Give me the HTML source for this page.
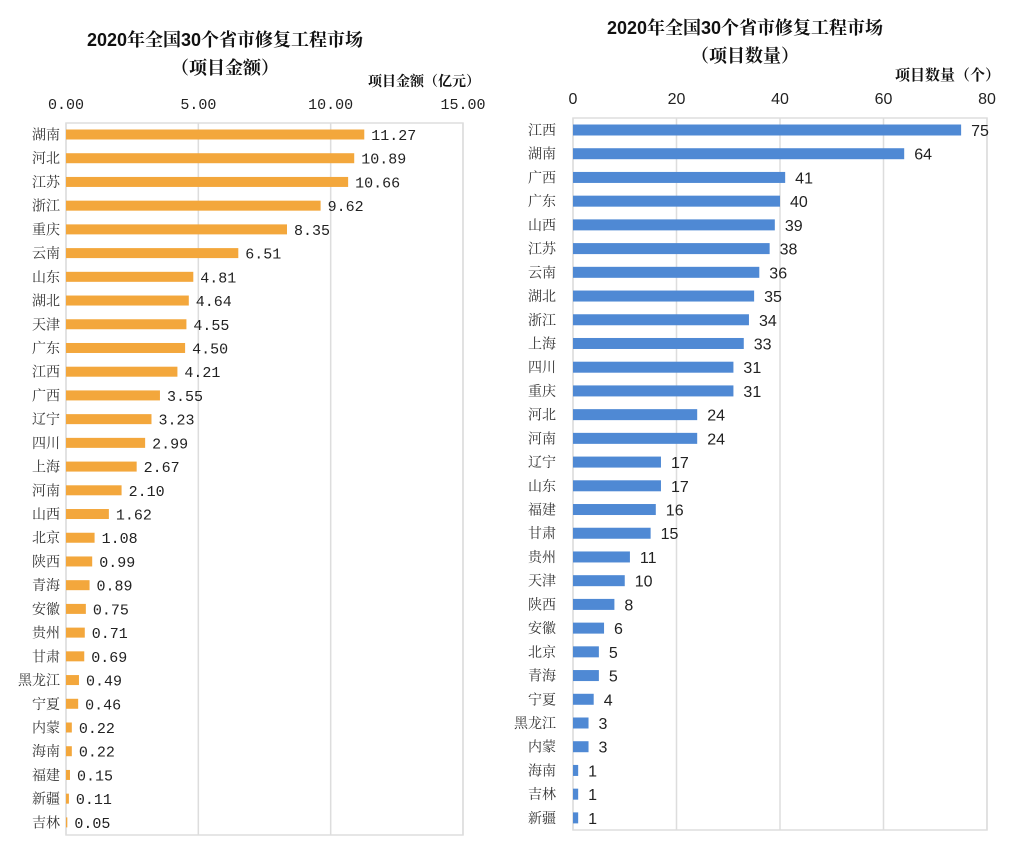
<!DOCTYPE html>
<html><head><meta charset="utf-8"><style>
body{margin:0;background:#fff}
svg{display:block}
.t{font-family:"Liberation Sans","Noto Serif CJK SC",serif;font-weight:bold;fill:#111}
.c{font-family:"Noto Serif CJK SC",serif;fill:#333;font-size:14px}
.v{font-family:"Liberation Mono","Noto Serif CJK SC",monospace;fill:#222;font-size:15px}
.n{font-family:"Liberation Sans",sans-serif;fill:#222;font-size:16px}
</style></head><body>
<svg width="1009" height="856" xmlns="http://www.w3.org/2000/svg" id="s">
<rect width="1009" height="856" fill="#fff"/>
<text class="t" x="225" y="46" font-size="18" text-anchor="middle">2020年全国30个省市修复工程市场</text>
<text class="t" x="225" y="74" font-size="18" text-anchor="middle">（项目金额）</text>
<text class="t" x="480" y="86" font-size="14" text-anchor="end">项目金额（亿元）</text>
<text class="t" x="745" y="34" font-size="18" text-anchor="middle">2020年全国30个省市修复工程市场</text>
<text class="t" x="745" y="62" font-size="18" text-anchor="middle">（项目数量）</text>
<text class="t" x="1000" y="80" font-size="15" text-anchor="end">项目数量（个）</text>
<g id="L"></g><g id="R"></g>
</svg>
<script>
var NS="http://www.w3.org/2000/svg";
function el(p,t,a,txt){var e=document.createElementNS(NS,t);for(var k in a)e.setAttribute(k,a[k]);if(txt!=null)e.textContent=txt;p.appendChild(e);return e;}
var L=document.getElementById("L"),R=document.getElementById("R");
var ld=[["湖南",11.27],["河北",10.89],["江苏",10.66],["浙江",9.62],["重庆",8.35],["云南",6.51],["山东",4.81],["湖北",4.64],["天津",4.55],["广东",4.50],["江西",4.21],["广西",3.55],["辽宁",3.23],["四川",2.99],["上海",2.67],["河南",2.10],["山西",1.62],["北京",1.08],["陕西",0.99],["青海",0.89],["安徽",0.75],["贵州",0.71],["甘肃",0.69],["黑龙江",0.49],["宁夏",0.46],["内蒙",0.22],["海南",0.22],["福建",0.15],["新疆",0.11],["吉林",0.05]];
var x0=66,x1=463,ltop=123,lbot=835;
for(var i=0;i<=3;i++){var x=x0+(x1-x0)*i/3;el(L,"line",{x1:x,x2:x,y1:ltop,y2:lbot,stroke:"#ddd","stroke-width":1.5});
el(L,"text",{x:x,y:109,"text-anchor":"middle","class":"v"},(i*5).toFixed(2));}
el(L,"rect",{x:x0,y:ltop,width:x1-x0,height:lbot-ltop,fill:"none",stroke:"#ddd","stroke-width":1.5});
ld.forEach(function(d,i){var cy=134.5+i*23.72,w=d[1]*(x1-x0)/15;
el(L,"rect",{x:x0,y:cy-5,width:w,height:10,fill:"#f3a73c"});
el(L,"text",{x:60,y:cy+5,"text-anchor":"end","class":"c"},d[0]);
el(L,"text",{x:x0+w+7,y:cy+5.5,"class":"v"},d[1].toFixed(2));});
var rd=[["江西",75],["湖南",64],["广西",41],["广东",40],["山西",39],["江苏",38],["云南",36],["湖北",35],["浙江",34],["上海",33],["四川",31],["重庆",31],["河北",24],["河南",24],["辽宁",17],["山东",17],["福建",16],["甘肃",15],["贵州",11],["天津",10],["陕西",8],["安徽",6],["北京",5],["青海",5],["宁夏",4],["黑龙江",3],["内蒙",3],["海南",1],["吉林",1],["新疆",1]];
var a0=573,a1=987,rt=118,rb=830;
for(var i=0;i<=4;i++){var x=a0+(a1-a0)*i/4;el(R,"line",{x1:x,x2:x,y1:rt,y2:rb,stroke:"#ddd","stroke-width":1.5});
el(R,"text",{x:x,y:104,"text-anchor":"middle","class":"n"},i*20);}
el(R,"rect",{x:a0,y:rt,width:a1-a0,height:rb-rt,fill:"none",stroke:"#ddd","stroke-width":1.5});
rd.forEach(function(d,i){var cy=130+i*23.72,w=d[1]*(a1-a0)/80;
el(R,"rect",{x:a0,y:cy-5.5,width:w,height:11,fill:"#4f89d4"});
el(R,"text",{x:556,y:cy+5,"text-anchor":"end","class":"c"},d[0]);
el(R,"text",{x:a0+w+10,y:cy+6,"class":"n"},d[1]);});
</script>
</body></html>
